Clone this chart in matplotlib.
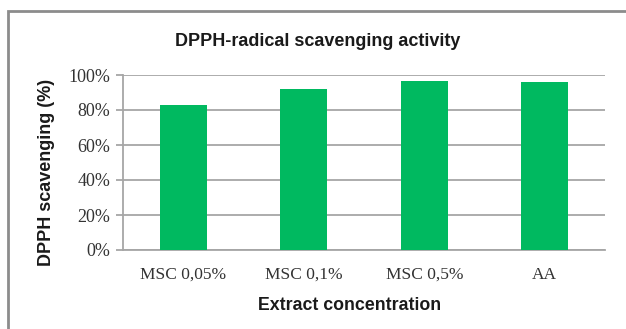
import matplotlib.pyplot as plt
from matplotlib.patches import Rectangle
import numpy as np

# datos
categorias = ["MSC 0,05%", "MSC 0,1%", "MSC 0,5%", "AA"]
actividad = [0.83, 0.918, 0.967, 0.96]
ticks_y = [0, 0.2, 0.4, 0.6, 0.8, 1.0]
etiquetas_y = ["0%", "20%", "40%", "60%", "80%", "100%"]

verde = "#00B960"
gris = "#A6A6A6"

fig = plt.figure(figsize=(6.26, 3.29), dpi=100)
ax = fig.add_axes([123/626, 1 - 250/329, (605 - 123)/626, (250 - 75)/329])

x = np.arange(len(categorias))
ax.bar(x, actividad, width=0.39, color=verde, zorder=3)

ax.set_xlim(-0.5, len(categorias) - 0.5)
ax.set_ylim(0, 1.0)
ax.set_yticks(ticks_y)
ax.set_yticklabels(etiquetas_y, family="Liberation Serif", fontsize=13, color="#333333")
ax.set_xticks(x)
ax.set_xticklabels(categorias, family="Liberation Serif", fontsize=12.5, color="#333333")
ax.tick_params(axis="x", length=0, pad=12)
ax.tick_params(axis="y", length=5, width=1.3, color=gris, pad=4)

ax.grid(axis="y", color=gris, linewidth=1.3, zorder=0)
for lado in ["top", "right"]:
    ax.spines[lado].set_visible(False)
ax.spines["left"].set_color(gris)
ax.spines["bottom"].set_color(gris)
ax.spines["left"].set_linewidth(1.3)
ax.spines["bottom"].set_linewidth(1.3)

fig.text(318/626, 1 - 41/329, "DPPH-radical scavenging activity", ha="center", va="center",
         family="Liberation Sans", weight="bold", fontsize=13, color="#1a1a1a")
fig.text(350/626, 1 - 306/329, "Extract concentration", ha="center", va="center",
         family="Liberation Sans", weight="bold", fontsize=12.8, color="#1a1a1a")
fig.text(47/626, 1 - 172/329, "DPPH scavenging (%)", ha="center", va="center", rotation=90,
         family="Liberation Sans", weight="bold", fontsize=13, color="#1a1a1a")

# marco exterior
fig.patches.append(Rectangle((8/626, -0.2), 2, 1.2 - 11/329, transform=fig.transFigure,
                             fill=False, edgecolor="#8c8c8c", linewidth=2))

fig.savefig("out.png", dpi=100)
